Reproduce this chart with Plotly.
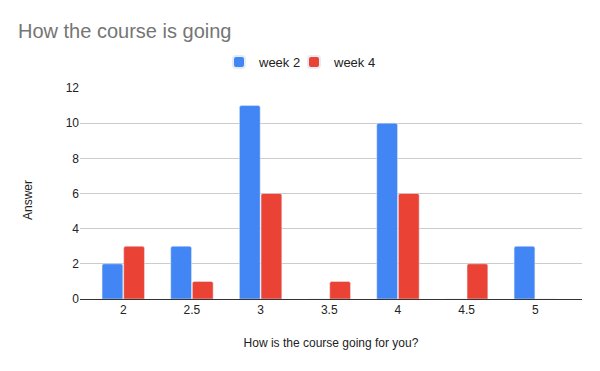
import plotly.graph_objects as go

categories = ["2", "2.5", "3", "3.5", "4", "4.5", "5"]
week2 = [2, 3, 11, 0, 10, 0, 3]
week4 = [3, 1, 6, 1, 6, 2, 0]

fig = go.Figure()
fig.add_trace(go.Bar(name="week 2", x=categories, y=week2, marker_color="#4285F4",
                     legend="legend", showlegend=True))
fig.add_trace(go.Bar(name="week 4", x=categories, y=week4, marker_color="#EA4335",
                     legend="legend2", showlegend=True))

leg_common = dict(orientation="h", xref="container", xanchor="left",
                  yref="container", y=1-62/371, yanchor="middle",
                  font=dict(size=13, color="#222222"), itemsizing="constant",
                  itemwidth=30, bgcolor="rgba(0,0,0,0)", visible=True)

fig.update_layout(
    width=600, height=371,
    showlegend=True,
    margin=dict(l=80, r=18, t=88, b=72, autoexpand=False),
    paper_bgcolor="white", plot_bgcolor="white",
    font=dict(family="Liberation Sans, Arial, sans-serif", size=12, color="#222222"),
    title=dict(text="How the course is going", x=18/600, xanchor="left", xref="container",
               y=1-31/371, yanchor="middle", yref="container",
               font=dict(size=20, color="#757575")),
    barmode="group", bargap=0.37, bargroupgap=0.04, barcornerradius=2,
    legend=dict(x=219/600, **leg_common),
    legend2=dict(x=294/600, **leg_common),
    xaxis=dict(type="category", range=[-0.63, 6.68], showline=True, linecolor="#333333",
               linewidth=1, showgrid=False, ticks="", automargin=False,
               title=dict(text="How is the course going for you?", standoff=22,
                          font=dict(size=12, color="#222222"))),
    yaxis=dict(range=[0, 12], dtick=2, showgrid=True, gridcolor="#cccccc", gridwidth=1,
               zeroline=False, showline=False, ticks="", automargin=False),
    annotations=[dict(text="Answer", textangle=-90, xref="paper", yref="paper",
                      x=-(80-28)/502, y=(371-72-200)/211, xanchor="center", yanchor="middle",
                      showarrow=False, font=dict(size=12, color="#222222"))],
)

fig.write_html("out.html", config={"displayModeBar": False},
               post_script="document.body.style.margin='0';document.body.style.overflow='hidden';")
